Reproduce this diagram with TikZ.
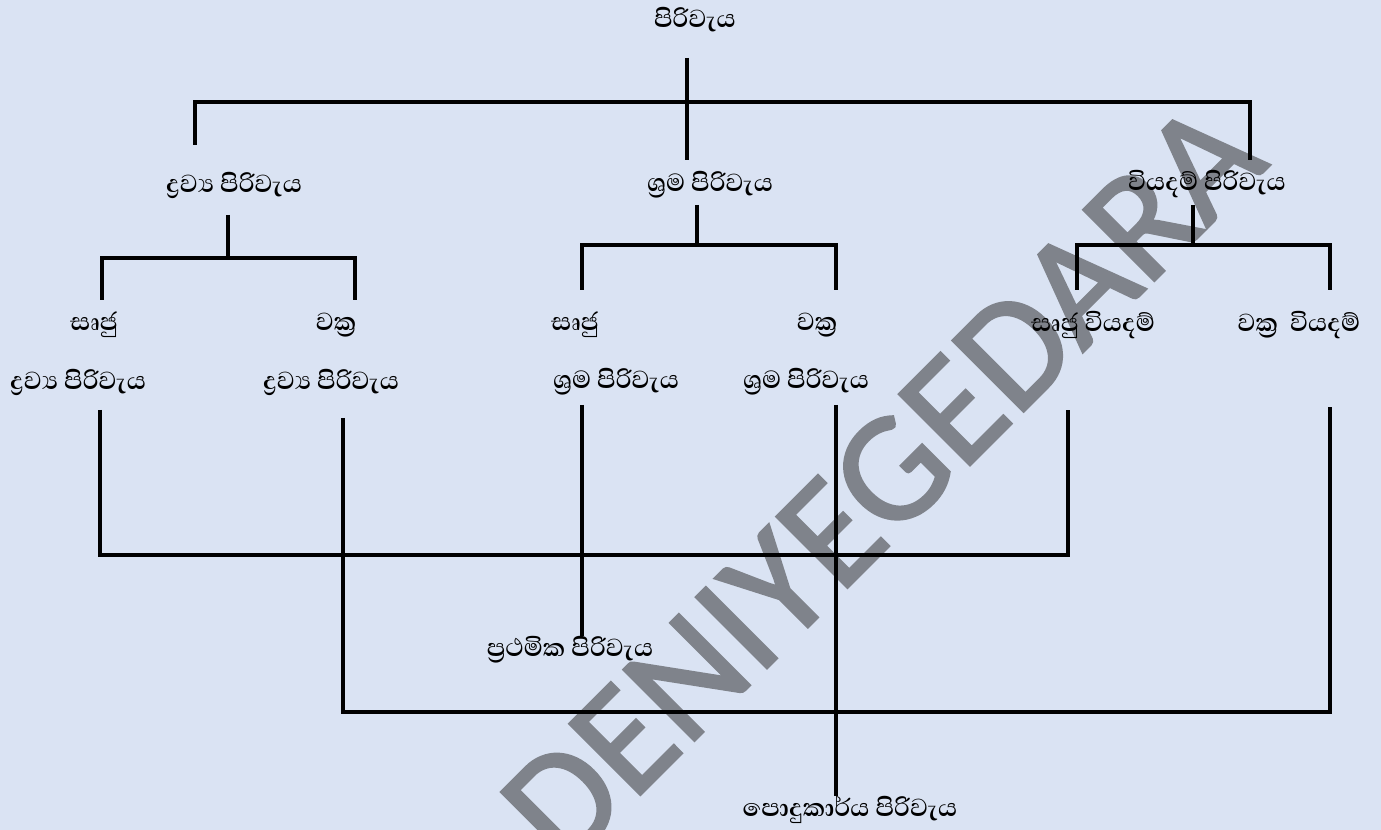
\documentclass[tikz,border=0pt]{standalone}
\usepackage{fontspec}
\usepackage{xcolor}
\usepackage{tikz}
\usetikzlibrary{positioning,calc}
\newfontfamily\sinhfont[Script=Sinhala]{Abhaya Libre}
\newfontfamily\wmfont[FakeBold=1.6]{Carlito}
\definecolor{cBg}{HTML}{DAE3F3}
\definecolor{cMark}{HTML}{7F838B}

\begin{document}
\begin{tikzpicture}[x=0.02cm,y=-0.02cm,
  conn/.style={line width=2.3pt},
  lbl/.style={font=\sinhfont\bfseries\fontsize{18}{21}\selectfont,inner sep=0pt}]
  \useasboundingbox (0,0) rectangle (1381,830);
  \fill[cBg] (0,0) rectangle (1381,830);
  \begin{scope}
    \clip (0,0) rectangle (1381,830);
    \node[text=cMark,rotate=45,font=\wmfont\fontsize{89}{89}\selectfont] (mark) at (882,482) {DENIYEGEDARA};
  \end{scope}

  \node[lbl] (cost) at (695,20) {පිරිවැය};
  \node[lbl] (mat) at (234,185) {ද්^^^^200dරව්^^^^200dය පිරිවැය};
  \node[lbl] (lab) at (710,185) {ශ්^^^^200dරම පිරිවැය};
  \node[lbl] (exp) at (1207,184) {වියදම් පිරිවැය};

  \node[lbl] (matdA) at (94,325) {සෘජු};
  \node[lbl] (matiA) at (336,325) {වක්^^^^200dර};
  \node[lbl] (labdA) at (575,325) {සෘජු};
  \node[lbl] (labiA) at (817,325) {වක්^^^^200dර};
  \node[lbl] (expd) at (1093,325) {සෘජු වියදම්};
  \node[lbl] (expi) at (1299,325) {වක්^^^^200dර\ \ වියදම්};
  \node[lbl] (matdB) at (78,382) {ද්^^^^200dරව්^^^^200dය පිරිවැය};
  \node[lbl] (matiB) at (331,382) {ද්^^^^200dරව්^^^^200dය පිරිවැය};
  \node[lbl] (labdB) at (616,382) {ශ්^^^^200dරම පිරිවැය};
  \node[lbl] (labiB) at (806,382) {ශ්^^^^200dරම පිරිවැය};

  \node[lbl] (prime) at (570,650) {ප්^^^^200dරථමික පිරිවැය};
  \node[lbl] (ovh) at (850,810) {පොදුකාර්ය පිරිවැය};

  \coordinate (c1) at (195,102);
  \coordinate (c2) at (1250,102);
  \coordinate (m1) at (102,258);
  \coordinate (m2) at (355,258);
  \coordinate (l1) at (582,245);
  \coordinate (l2) at (836,245);
  \coordinate (e1) at (1077,245);
  \coordinate (e2) at (1330,245);
  \coordinate (p1) at (100,555);
  \coordinate (p2) at (1068,555);
  \coordinate (o1) at (343,712);
  \coordinate (o2) at (1330,712);

  \draw[conn] (687,58) -- (687,160);
  \draw[conn] (195,145) -- (c1) -- (c2) -- (1250,160);
  \draw[conn] (228,215) -- (228,258);
  \draw[conn] (102,300) -- (m1) -- (m2) -- (355,300);
  \draw[conn] (697,205) -- (697,245);
  \draw[conn] (582,290) -- (l1) -- (l2) -- (836,290);
  \draw[conn] (1193,205) -- (1193,245);
  \draw[conn] (1077,290) -- (e1) -- (e2) -- (1330,290);
  \draw[conn] (100,410) -- (p1) -- (p2) -- (1068,410);
  \draw[conn] (582,405) -- (prime.north -| 582,0);
  \draw[conn] (343,418) -- (o1) -- (o2) -- (1330,407);
  \draw[conn] (836,405) -- (ovh.north -| 836,0);
\end{tikzpicture}
\end{document}
